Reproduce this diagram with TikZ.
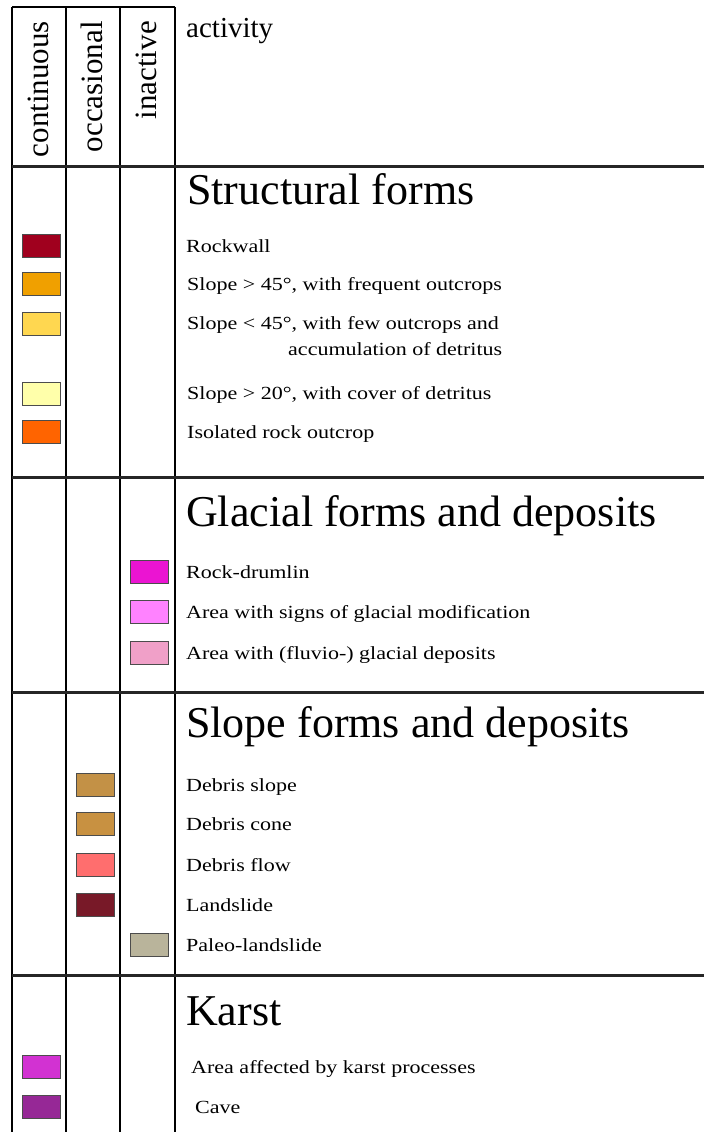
\documentclass[tikz,border=0pt]{standalone}
\usepackage{fontspec}
\setmainfont{Liberation Serif}
\usepackage{graphicx}
\newcommand\smtxt[1]{\scalebox{1.19}[1]{\fontsize{18.5}{22}\selectfont #1}}
\definecolor{cRock}{RGB}{160,0,30}
\definecolor{cSteep}{RGB}{240,160,0}
\definecolor{cMid}{RGB}{255,215,80}
\definecolor{cGentle}{RGB}{255,255,170}
\definecolor{cIso}{RGB}{255,100,0}
\definecolor{cDrum}{RGB}{235,20,210}
\definecolor{cGlMod}{RGB}{255,130,255}
\definecolor{cGlDep}{RGB}{240,160,200}
\definecolor{cDSlope}{RGB}{195,145,70}
\definecolor{cDCone}{RGB}{200,145,65}
\definecolor{cDFlow}{RGB}{255,110,110}
\definecolor{cLand}{RGB}{120,25,40}
\definecolor{cPaleo}{RGB}{185,180,155}
\definecolor{cKarst}{RGB}{210,50,210}
\definecolor{cCave}{RGB}{150,40,150}
\begin{document}
\begin{tikzpicture}[x=1pt,y=-1pt,
  vline/.style={line width=2pt, black},
  hline/.style={line width=3pt, black!85},
  swatch/.style={draw=black!70, line width=1pt, minimum width=38pt, minimum height=23pt, inner sep=0pt},
  itemtxt/.style={anchor=base west, inner sep=0pt},
  headtxt/.style={anchor=base west, inner sep=0pt, font=\fontsize{44}{50}\selectfont},
  toptxt/.style={anchor=base west, inner sep=0pt, font=\fontsize{29}{34}\selectfont},
  coltxt/.style={rotate=90, anchor=base east, inner sep=0pt, font=\fontsize{31}{36}\selectfont}]
\useasboundingbox (0,0) rectangle (704,1132);
\fill[white] (0,0) rectangle (704,1132);
% table grid
\draw[vline] (12,7) -- (175,7);
\foreach \x in {12,66,120,175} \draw[vline] (\x,7) -- (\x,1132);
\foreach \y in {166,477,692,975} \draw[hline] (12,\y) -- (704,\y);
% header
\node[coltxt] (hc) at (48,21) {continuous};
\node[coltxt] (ho) at (102,21) {occasional};
\node[coltxt] (hi) at (156,21) {inactive};
\node[toptxt] (ha) at (186,38) {activity};
% Structural forms
\node[headtxt] (h1) at (187,204) {Structural forms};
\node[swatch, fill=cRock] (s11) at (41.5,246) {};
\node[swatch, fill=cSteep] (s12) at (41.5,284) {};
\node[swatch, fill=cMid] (s13) at (41.5,324) {};
\node[swatch, fill=cGentle] (s14) at (41.5,394) {};
\node[swatch, fill=cIso] (s15) at (41.5,432) {};
\node[itemtxt] (t11) at (186,252) {\smtxt{Rockwall}};
\node[itemtxt] (t12) at (187,290) {\smtxt{Slope > 45°, with frequent outcrops}};
\node[itemtxt] (t13) at (187,329) {\smtxt{Slope < 45°, with few outcrops and}};
\node[itemtxt] (t13b) at (288,355) {\smtxt{accumulation of detritus}};
\node[itemtxt] (t14) at (187,399) {\smtxt{Slope > 20°, with cover of detritus}};
\node[itemtxt] (t15) at (187,438) {\smtxt{Isolated rock outcrop}};
% Glacial
\node[headtxt] (h2) at (186,526) {Glacial forms and deposits};
\node[swatch, fill=cDrum] (s21) at (149.5,572) {};
\node[swatch, fill=cGlMod] (s22) at (149.5,612) {};
\node[swatch, fill=cGlDep] (s23) at (149.5,653) {};
\node[itemtxt] (t21) at (186,578) {\smtxt{Rock-drumlin}};
\node[itemtxt] (t22) at (186,618) {\smtxt{Area with signs of glacial modification}};
\node[itemtxt] (t23) at (186,659) {\smtxt{Area with (fluvio-) glacial deposits}};
% Slope
\node[headtxt] (h3) at (186,737) {Slope forms and deposits};
\node[swatch, fill=cDSlope] (s31) at (95.5,785) {};
\node[swatch, fill=cDCone] (s32) at (95.5,824) {};
\node[swatch, fill=cDFlow] (s33) at (95.5,865) {};
\node[swatch, fill=cLand] (s34) at (95.5,905) {};
\node[swatch, fill=cPaleo] (s35) at (149.5,945) {};
\node[itemtxt] (t31) at (186,791) {\smtxt{Debris slope}};
\node[itemtxt] (t32) at (186,830) {\smtxt{Debris cone}};
\node[itemtxt] (t33) at (186,871) {\smtxt{Debris flow}};
\node[itemtxt] (t34) at (186,911) {\smtxt{Landslide}};
\node[itemtxt] (t35) at (186,951) {\smtxt{Paleo-landslide}};
% Karst
\node[headtxt] (h4) at (186,1025) {Karst};
\node[swatch, fill=cKarst] (s41) at (41.5,1067) {};
\node[swatch, fill=cCave] (s42) at (41.5,1107) {};
\node[itemtxt] (t41) at (191,1073) {\smtxt{Area affected by karst processes}};
\node[itemtxt] (t42) at (195,1113) {\smtxt{Cave}};
\end{tikzpicture}
\end{document}
